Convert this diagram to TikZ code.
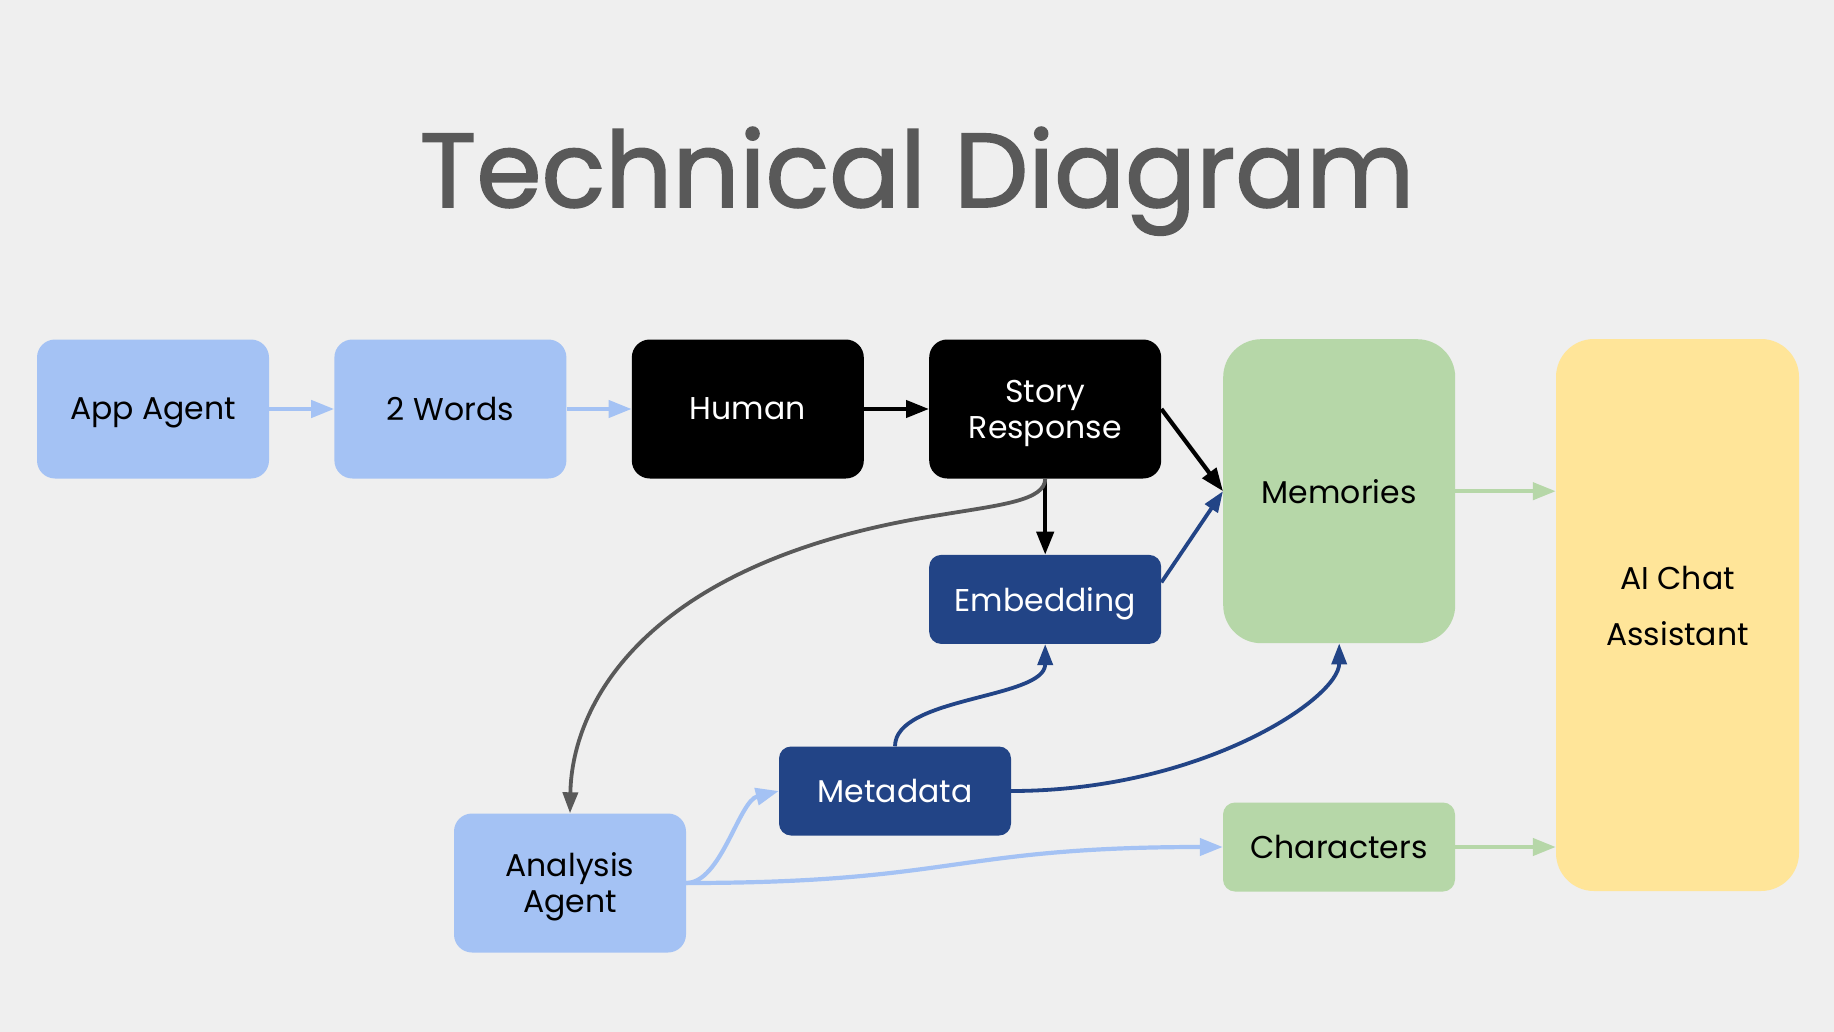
\documentclass[tikz,border=0pt]{standalone}
\usepackage{fontspec}
\setmainfont{Poppins}
\usepackage{tikz}
\usetikzlibrary{arrows.meta,positioning}

\definecolor{bgcol}{HTML}{EFEFEF}
\definecolor{appblue}{HTML}{A4C2F4}
\definecolor{navyfill}{HTML}{224486}
\definecolor{leafgreen}{HTML}{B6D7A8}
\definecolor{sunyellow}{HTML}{FFE599}
\definecolor{titlegray}{HTML}{595959}

\begin{document}
\begin{tikzpicture}[
  x=1pt, y=-1pt,
  node distance=65pt,
  box/.style={rectangle,rounded corners=18pt,align=center,inner sep=0pt,minimum width=232pt,minimum height=139pt,text depth=0pt,font=\fontsize{31.5}{36}\selectfont},
  flat/.style={box,rounded corners=12pt,minimum height=89pt},
  pale/.style={fill=appblue,text=black},
  ink/.style={fill=black,text=white},
  navy/.style={fill=navyfill,text=white},
  leaf/.style={fill=leafgreen,text=black},
  arr/.style={-{Triangle[length=23pt,width=17pt]},line width=4.2pt},
  thin arr/.style={-{Triangle[length=21pt,width=15pt]},line width=3.8pt}
]
\fill[bgcol] (0,0) rectangle (1834,1032);
\node[font=\fontsize{105}{120}\selectfont\addfontfeatures{FakeBold=1.6},text=titlegray,anchor=base] (title) at (917,207) {Technical Diagram};

% top row
\node[box,pale] (app) at (153,409) {App Agent};
\node[box,pale,right=of app] (words) {2 Words};
\node[box,ink,right=of words] (human) {Human};
\node[box,ink,right=of human] (story) {Story\\Response};
\node[box,leaf,rounded corners=38pt,minimum height=304pt,anchor=north west] (memories) at (1223,339) {Memories};
\node[box,fill=sunyellow,rounded corners=38pt,minimum width=243pt,minimum height=552pt,text depth=19pt] (assistant) at (1677.5,615) {AI Chat\\[20pt]Assistant};

% lower part
\node[flat,navy,below=76pt of story] (embed) {Embedding};
\node[flat,navy] (metadata) at (895,791) {Metadata};
\node[box,pale] (analysis) at (570,883) {Analysis\\Agent};
\node[flat,leaf] (characters) at (1339,847) {Characters};

\draw[arr,appblue] (app) -- (words);
\draw[arr,appblue] (words) -- (human);
\draw[arr] (human) -- (story);
\draw[arr] (story.east) -- (memories.west);
\draw[arr] (story) -- (embed);
\draw[thin arr,navyfill] ([yshift=17pt]embed.east) -- (memories.west);
\draw[thin arr,titlegray] (story.south) .. controls +(0,22) and (1000,505) .. (940,515) .. controls (650,560) and (572,700) .. (analysis.north);
\draw[thin arr,navyfill] (metadata.north) .. controls +(0,-50) and +(0,55) .. (embed.south);
\draw[thin arr,navyfill] (metadata.east) .. controls +(190,0) and +(0,55) .. (memories.south);
\draw[arr,appblue] (analysis.east) .. controls +(35,0) and +(-40,10) .. (metadata.west);
\draw[arr,appblue] (analysis.east) .. controls +(270,0) and +(-270,0) .. (characters.west);
\draw[arr,leafgreen] (memories.east) -- (memories.east -| assistant.west);
\draw[arr,leafgreen] (characters.east) -- (characters.east -| assistant.west);
\end{tikzpicture}
\end{document}
